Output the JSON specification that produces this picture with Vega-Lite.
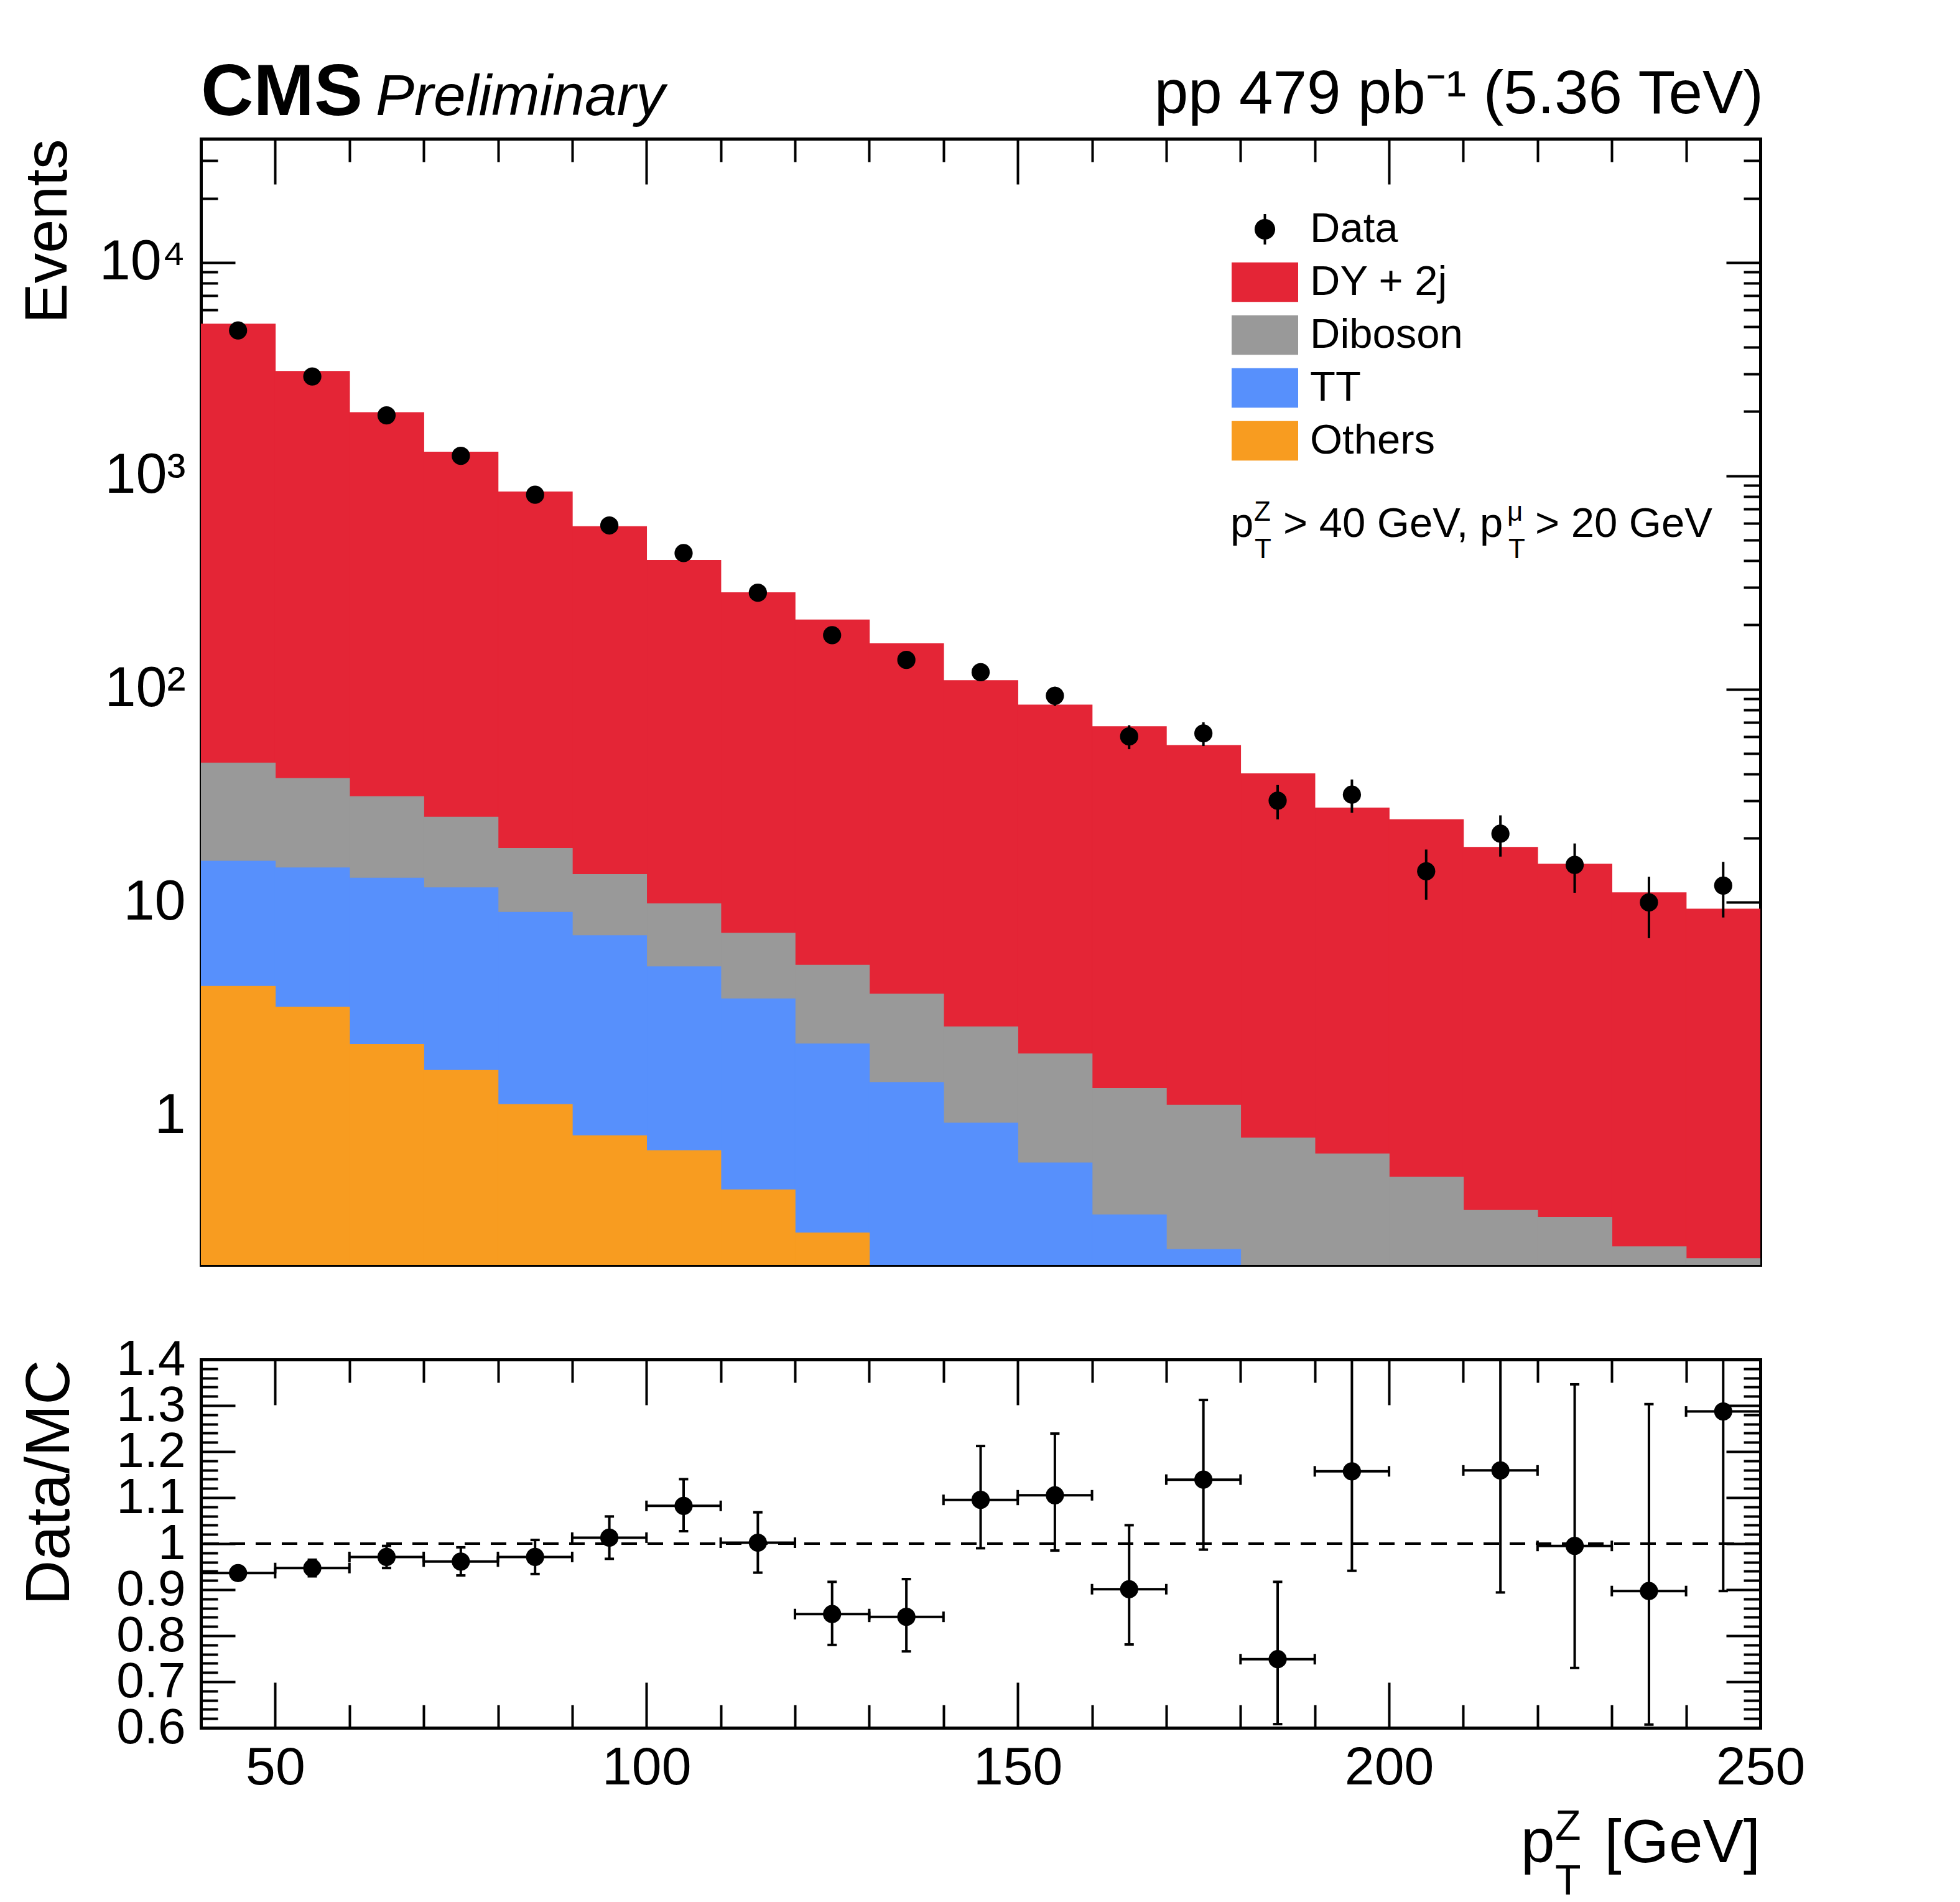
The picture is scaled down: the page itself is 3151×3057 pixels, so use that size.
{
  "$schema": "https://vega.github.io/schema/vega-lite/v6.json",
  "background": "white",
  "autosize": {"type": "pad"},
  "padding": {"left": 28, "top": 90, "right": 0, "bottom": 0},
  "bounds": "flush",
  "spacing": 152,
  "config": {
    "view": {"stroke": null},
    "font": "Liberation Sans",
    "axis": {
      "grid": false, "domain": true, "domainColor": "black", "domainWidth": 5, "domainCap": "square",
      "tickColor": "black", "tickWidth": 4, "labelColor": "black", "labelFont": "Liberation Sans",
      "titleFont": "Liberation Sans", "titleFontWeight": "normal", "titleColor": "black",
      "zindex": 1, "labelFlush": false, "labelOverlap": false, "labelBound": false, "labelLimit": 1000
    }
  },
  "datasets": {
    "stack": [
      {"lo": 40, "hi": 50, "process": "DY + 2j", "cumulative": 5140},
      {"lo": 50, "hi": 60, "process": "DY + 2j", "cumulative": 3085},
      {"lo": 60, "hi": 70, "process": "DY + 2j", "cumulative": 1975},
      {"lo": 70, "hi": 80, "process": "DY + 2j", "cumulative": 1290},
      {"lo": 80, "hi": 90, "process": "DY + 2j", "cumulative": 840},
      {"lo": 90, "hi": 100, "process": "DY + 2j", "cumulative": 577},
      {"lo": 100, "hi": 110, "process": "DY + 2j", "cumulative": 401},
      {"lo": 110, "hi": 120, "process": "DY + 2j", "cumulative": 283},
      {"lo": 120, "hi": 130, "process": "DY + 2j", "cumulative": 211},
      {"lo": 130, "hi": 140, "process": "DY + 2j", "cumulative": 163},
      {"lo": 140, "hi": 150, "process": "DY + 2j", "cumulative": 109.5},
      {"lo": 150, "hi": 160, "process": "DY + 2j", "cumulative": 84.2},
      {"lo": 160, "hi": 170, "process": "DY + 2j", "cumulative": 66.6},
      {"lo": 170, "hi": 180, "process": "DY + 2j", "cumulative": 54.4},
      {"lo": 180, "hi": 190, "process": "DY + 2j", "cumulative": 40.1},
      {"lo": 190, "hi": 200, "process": "DY + 2j", "cumulative": 27.7},
      {"lo": 200, "hi": 210, "process": "DY + 2j", "cumulative": 24.4},
      {"lo": 210, "hi": 220, "process": "DY + 2j", "cumulative": 18.1},
      {"lo": 220, "hi": 230, "process": "DY + 2j", "cumulative": 15.1},
      {"lo": 230, "hi": 240, "process": "DY + 2j", "cumulative": 11.1},
      {"lo": 240, "hi": 250, "process": "DY + 2j", "cumulative": 9.3},
      {"lo": 40, "hi": 50, "process": "Diboson", "cumulative": 45.0},
      {"lo": 50, "hi": 60, "process": "Diboson", "cumulative": 38.1},
      {"lo": 60, "hi": 70, "process": "Diboson", "cumulative": 31.3},
      {"lo": 70, "hi": 80, "process": "Diboson", "cumulative": 25.1},
      {"lo": 80, "hi": 90, "process": "Diboson", "cumulative": 17.9},
      {"lo": 90, "hi": 100, "process": "Diboson", "cumulative": 13.5},
      {"lo": 100, "hi": 110, "process": "Diboson", "cumulative": 9.85},
      {"lo": 110, "hi": 120, "process": "Diboson", "cumulative": 7.17},
      {"lo": 120, "hi": 130, "process": "Diboson", "cumulative": 5.07},
      {"lo": 130, "hi": 140, "process": "Diboson", "cumulative": 3.72},
      {"lo": 140, "hi": 150, "process": "Diboson", "cumulative": 2.61},
      {"lo": 150, "hi": 160, "process": "Diboson", "cumulative": 1.95},
      {"lo": 160, "hi": 170, "process": "Diboson", "cumulative": 1.34},
      {"lo": 170, "hi": 180, "process": "Diboson", "cumulative": 1.12},
      {"lo": 180, "hi": 190, "process": "Diboson", "cumulative": 0.786},
      {"lo": 190, "hi": 200, "process": "Diboson", "cumulative": 0.662},
      {"lo": 200, "hi": 210, "process": "Diboson", "cumulative": 0.515},
      {"lo": 210, "hi": 220, "process": "Diboson", "cumulative": 0.36},
      {"lo": 220, "hi": 230, "process": "Diboson", "cumulative": 0.334},
      {"lo": 230, "hi": 240, "process": "Diboson", "cumulative": 0.243},
      {"lo": 240, "hi": 250, "process": "Diboson", "cumulative": 0.214},
      {"lo": 40, "hi": 50, "process": "TT", "cumulative": 15.6},
      {"lo": 50, "hi": 60, "process": "TT", "cumulative": 14.5},
      {"lo": 60, "hi": 70, "process": "TT", "cumulative": 13.0},
      {"lo": 70, "hi": 80, "process": "TT", "cumulative": 11.7},
      {"lo": 80, "hi": 90, "process": "TT", "cumulative": 8.98},
      {"lo": 90, "hi": 100, "process": "TT", "cumulative": 6.98},
      {"lo": 100, "hi": 110, "process": "TT", "cumulative": 4.99},
      {"lo": 110, "hi": 120, "process": "TT", "cumulative": 3.53},
      {"lo": 120, "hi": 130, "process": "TT", "cumulative": 2.17},
      {"lo": 130, "hi": 140, "process": "TT", "cumulative": 1.43},
      {"lo": 140, "hi": 150, "process": "TT", "cumulative": 0.923},
      {"lo": 150, "hi": 160, "process": "TT", "cumulative": 0.601},
      {"lo": 160, "hi": 170, "process": "TT", "cumulative": 0.343},
      {"lo": 170, "hi": 180, "process": "TT", "cumulative": 0.236},
      {"lo": 40, "hi": 50, "process": "Others", "cumulative": 4.04},
      {"lo": 50, "hi": 60, "process": "Others", "cumulative": 3.23},
      {"lo": 60, "hi": 70, "process": "Others", "cumulative": 2.16},
      {"lo": 70, "hi": 80, "process": "Others", "cumulative": 1.63},
      {"lo": 80, "hi": 90, "process": "Others", "cumulative": 1.13},
      {"lo": 90, "hi": 100, "process": "Others", "cumulative": 0.806},
      {"lo": 100, "hi": 110, "process": "Others", "cumulative": 0.686},
      {"lo": 110, "hi": 120, "process": "Others", "cumulative": 0.449},
      {"lo": 120, "hi": 130, "process": "Others", "cumulative": 0.282}
    ],
    "observed": [
      {"center": 45, "events": 4800, "low": 4731, "high": 4869},
      {"center": 55, "events": 2920, "low": 2866, "high": 2974},
      {"center": 65, "events": 1920, "low": 1876, "high": 1964},
      {"center": 75, "events": 1240, "low": 1205, "high": 1275},
      {"center": 85, "events": 815, "low": 786.5, "high": 843.5},
      {"center": 95, "events": 585, "low": 561, "high": 609},
      {"center": 105, "events": 434, "low": 413, "high": 455},
      {"center": 115, "events": 283, "low": 266, "high": 300},
      {"center": 125, "events": 179, "low": 165.6, "high": 192.4},
      {"center": 135, "events": 137, "low": 125.3, "high": 148.7},
      {"center": 145, "events": 120, "low": 109, "high": 131},
      {"center": 155, "events": 93, "low": 83.4, "high": 102.6},
      {"center": 165, "events": 60, "low": 52.3, "high": 67.7},
      {"center": 175, "events": 62, "low": 54.1, "high": 69.9},
      {"center": 185, "events": 30, "low": 24.5, "high": 35.5},
      {"center": 195, "events": 32, "low": 26.3, "high": 37.7},
      {"center": 205, "events": 14, "low": 10.3, "high": 17.7},
      {"center": 215, "events": 21, "low": 16.4, "high": 25.6},
      {"center": 225, "events": 15, "low": 11.1, "high": 18.9},
      {"center": 235, "events": 10, "low": 6.8, "high": 13.2},
      {"center": 245, "events": 12, "low": 8.5, "high": 15.5}
    ],
    "ratio": [
      {"center": 45, "lo": 40, "hi": 50, "ratio": 0.936, "low": 0.922, "high": 0.950},
      {"center": 55, "lo": 50, "hi": 60, "ratio": 0.947, "low": 0.929, "high": 0.965},
      {"center": 65, "lo": 60, "hi": 70, "ratio": 0.971, "low": 0.947, "high": 0.995},
      {"center": 75, "lo": 70, "hi": 80, "ratio": 0.961, "low": 0.931, "high": 0.992},
      {"center": 85, "lo": 80, "hi": 90, "ratio": 0.971, "low": 0.934, "high": 1.008},
      {"center": 95, "lo": 90, "hi": 100, "ratio": 1.013, "low": 0.967, "high": 1.059},
      {"center": 105, "lo": 100, "hi": 110, "ratio": 1.082, "low": 1.027, "high": 1.140},
      {"center": 115, "lo": 110, "hi": 120, "ratio": 1.002, "low": 0.937, "high": 1.068},
      {"center": 125, "lo": 120, "hi": 130, "ratio": 0.847, "low": 0.780, "high": 0.917},
      {"center": 135, "lo": 130, "hi": 140, "ratio": 0.841, "low": 0.766, "high": 0.923},
      {"center": 145, "lo": 140, "hi": 150, "ratio": 1.095, "low": 0.990, "high": 1.212},
      {"center": 155, "lo": 150, "hi": 160, "ratio": 1.105, "low": 0.985, "high": 1.239},
      {"center": 165, "lo": 160, "hi": 170, "ratio": 0.901, "low": 0.781, "high": 1.040},
      {"center": 175, "lo": 170, "hi": 180, "ratio": 1.139, "low": 0.987, "high": 1.312},
      {"center": 185, "lo": 180, "hi": 190, "ratio": 0.749, "low": 0.608, "high": 0.917},
      {"center": 195, "lo": 190, "hi": 200, "ratio": 1.157, "low": 0.941, "high": 1.42},
      {"center": 215, "lo": 210, "hi": 220, "ratio": 1.159, "low": 0.894, "high": 1.49},
      {"center": 225, "lo": 220, "hi": 230, "ratio": 0.995, "low": 0.730, "high": 1.346},
      {"center": 235, "lo": 230, "hi": 240, "ratio": 0.897, "low": 0.607, "high": 1.303},
      {"center": 245, "lo": 240, "hi": 250, "ratio": 1.287, "low": 0.897, "high": 1.79}
    ]
  },
  "vconcat": [
    {
      "width": 2507,
      "height": 1810,
      "resolve": {"axis": {"x": "independent", "y": "independent"}},
      "layer": [
        {
          "data": {"name": "stack"},
          "mark": {"type": "bar", "clip": true, "strokeWidth": 1.5},
          "encoding": {
            "x": {"field": "lo", "type": "quantitative", "stack": null,
                  "scale": {"domain": [40, 250], "nice": false, "zero": false},
                  "axis": {"orient": "bottom", "values": [50, 100, 150, 200, 250], "tickSize": -73, "labels": false, "title": null}},
            "x2": {"field": "hi"},
            "y": {"field": "cumulative", "type": "quantitative", "stack": null,
                  "scale": {"type": "log", "domain": [0.2, 38000], "nice": false},
                  "axis": {"orient": "left", "values": [1, 10, 100, 1000, 10000], "tickSize": -55,
                           "labelFontSize": 90, "labelPadding": 80,
                           "labelExpr": "datum.value >= 10000 ? '10⁴' : datum.value >= 1000 ? '10³' : datum.value >= 100 ? '10²' : datum.value >= 10 ? '10' : '1'",
                           "title": "Events", "titleFontSize": 97, "titleX": -217, "titleY": 0, "titleAngle": 270,
                           "titleAlign": "right", "titleBaseline": "alphabetic", "titleAnchor": "end"}},
            "y2": {"datum": 0.2},
            "stroke": {"field": "process", "type": "nominal", "legend": null,
                       "scale": {"domain": ["Data", "DY + 2j", "Diboson", "TT", "Others"],
                                 "range": ["#000000", "#e42536", "#999999", "#5790fc", "#f89c20"]}},
            "color": {"field": "process", "type": "nominal",
                      "scale": {"domain": ["Data", "DY + 2j", "Diboson", "TT", "Others"],
                                "range": ["#000000", "#e42536", "#999999", "#5790fc", "#f89c20"]},
                      "legend": {"title": null, "orient": "none", "legendX": 1657, "legendY": 103, "direction": "vertical",
                                 "labelFontSize": 67, "labelFont": "Liberation Sans", "labelColor": "black", "labelOffset": 19,
                                 "labelLimit": 1000, "symbolType": "M-1,-0.594H1V0.594H-1Z", "symbolSize": 11449,
                                 "symbolStrokeWidth": 0, "symbolOpacity": 1, "clipHeight": 85, "rowPadding": 0, "padding": 0,
                                 "encode": {"symbols": {"update": {"shape": {"signal": "datum.value === 'Data' ? 'M-0.037,-0.46H0.037V0.46H-0.037Z M0.31,0A0.31,0.31 0 1,1 -0.31,0A0.31,0.31 0 1,1 0.31,0Z' : 'M-1,-0.594H1V0.594H-1Z'"}}}}}}
          }
        },
        {
          "data": {"name": "observed"},
          "mark": {"type": "rule", "color": "black", "strokeWidth": 4, "clip": true},
          "encoding": {
            "x": {"field": "center", "type": "quantitative",
                  "axis": {"orient": "bottom", "values": [60, 70, 80, 90, 110, 120, 130, 140, 160, 170, 180, 190, 210, 220, 230, 240], "tickSize": -37, "labels": false, "title": null}},
            "y": {"field": "low", "type": "quantitative",
                  "axis": {"orient": "left", "values": [0.3, 0.4, 0.5, 0.6, 0.7, 0.8, 0.9, 2, 3, 4, 5, 6, 7, 8, 9, 20, 30, 40, 50, 60, 70, 80, 90, 200, 300, 400, 500, 600, 700, 800, 900, 2000, 3000, 4000, 5000, 6000, 7000, 8000, 9000, 20000, 30000], "tickSize": -27, "labels": false, "title": null}},
            "y2": {"field": "high"}
          }
        },
        {
          "data": {"name": "observed"},
          "mark": {"type": "point", "filled": true, "size": 855, "opacity": 1, "strokeWidth": 0, "clip": true},
          "encoding": {
            "x": {"field": "center", "type": "quantitative",
                  "axis": {"orient": "top", "values": [50, 100, 150, 200, 250], "tickSize": -73, "labels": false, "title": null}},
            "y": {"field": "events", "type": "quantitative",
                  "axis": {"orient": "right", "values": [1, 10, 100, 1000, 10000], "tickSize": -55, "labels": false, "title": null}},
            "color": {"datum": "Data", "type": "nominal"}
          }
        },
        {
          "data": {"values": [{"label": "CMS"}]},
          "mark": {"type": "text", "font": "Liberation Sans", "fontSize": 117, "fontWeight": "bold", "align": "left", "baseline": "alphabetic", "dy": -38.5, "color": "black"},
          "encoding": {
            "x": {"datum": 40, "type": "quantitative",
                  "axis": {"orient": "top", "values": [60, 70, 80, 90, 110, 120, 130, 140, 160, 170, 180, 190, 210, 220, 230, 240], "tickSize": -37, "labels": false, "title": null}},
            "y": {"datum": 38000, "type": "quantitative",
                  "axis": {"orient": "right", "values": [0.3, 0.4, 0.5, 0.6, 0.7, 0.8, 0.9, 2, 3, 4, 5, 6, 7, 8, 9, 20, 30, 40, 50, 60, 70, 80, 90, 200, 300, 400, 500, 600, 700, 800, 900, 2000, 3000, 4000, 5000, 6000, 7000, 8000, 9000, 20000, 30000], "tickSize": -27, "labels": false, "title": null}},
            "text": {"field": "label"}
          }
        },
        {
          "data": {"values": [{"label": "Preliminary"}]},
          "mark": {"type": "text", "font": "Liberation Sans", "fontSize": 93, "fontStyle": "italic", "align": "left", "baseline": "alphabetic", "dx": 281, "dy": -38.5, "color": "black"},
          "encoding": {
            "x": {"datum": 40, "type": "quantitative", "axis": null},
            "y": {"datum": 38000, "type": "quantitative", "axis": null},
            "text": {"field": "label"}
          }
        },
        {
          "data": {"values": [{"label": "pp 479 pb⁻¹ (5.36 TeV)"}]},
          "mark": {"type": "text", "font": "Liberation Sans", "fontSize": 98, "align": "right", "baseline": "alphabetic", "dx": 5, "dy": -41, "color": "black"},
          "encoding": {
            "x": {"datum": 250, "type": "quantitative", "axis": null},
            "y": {"datum": 38000, "type": "quantitative", "axis": null},
            "text": {"field": "label"}
          }
        },
        {
          "data": {"values": [{"label": "p"}]},
          "mark": {"type": "text", "font": "Liberation Sans", "fontSize": 67, "align": "left", "baseline": "alphabetic", "color": "black"},
          "encoding": {
            "x": {"datum": 178.63, "type": "quantitative", "axis": null},
            "y": {"datum": 516.9, "type": "quantitative", "axis": null},
            "text": {"field": "label"}
          }
        },
        {
          "data": {"values": [{"label": "Z"}]},
          "mark": {"type": "text", "font": "Liberation Sans", "fontSize": 44, "align": "left", "baseline": "alphabetic", "dx": 38, "dy": -26, "color": "black"},
          "encoding": {
            "x": {"datum": 178.63, "type": "quantitative", "axis": null},
            "y": {"datum": 516.9, "type": "quantitative", "axis": null},
            "text": {"field": "label"}
          }
        },
        {
          "data": {"values": [{"label": "T"}]},
          "mark": {"type": "text", "font": "Liberation Sans", "fontSize": 44, "align": "left", "baseline": "alphabetic", "dx": 39, "dy": 34, "color": "black"},
          "encoding": {
            "x": {"datum": 178.63, "type": "quantitative", "axis": null},
            "y": {"datum": 516.9, "type": "quantitative", "axis": null},
            "text": {"field": "label"}
          }
        },
        {
          "data": {"values": [{"label": "> 40 GeV, p"}]},
          "mark": {"type": "text", "font": "Liberation Sans", "fontSize": 67, "align": "left", "baseline": "alphabetic", "dx": 85, "color": "black"},
          "encoding": {
            "x": {"datum": 178.63, "type": "quantitative", "axis": null},
            "y": {"datum": 516.9, "type": "quantitative", "axis": null},
            "text": {"field": "label"}
          }
        },
        {
          "data": {"values": [{"label": "μ"}]},
          "mark": {"type": "text", "font": "Liberation Sans", "fontSize": 44, "align": "left", "baseline": "alphabetic", "dx": 445, "dy": -26, "color": "black"},
          "encoding": {
            "x": {"datum": 178.63, "type": "quantitative", "axis": null},
            "y": {"datum": 516.9, "type": "quantitative", "axis": null},
            "text": {"field": "label"}
          }
        },
        {
          "data": {"values": [{"label": "T"}]},
          "mark": {"type": "text", "font": "Liberation Sans", "fontSize": 44, "align": "left", "baseline": "alphabetic", "dx": 447, "dy": 34, "color": "black"},
          "encoding": {
            "x": {"datum": 178.63, "type": "quantitative", "axis": null},
            "y": {"datum": 516.9, "type": "quantitative", "axis": null},
            "text": {"field": "label"}
          }
        },
        {
          "data": {"values": [{"label": "> 20 GeV"}]},
          "mark": {"type": "text", "font": "Liberation Sans", "fontSize": 67, "align": "left", "baseline": "alphabetic", "dx": 490, "color": "black"},
          "encoding": {
            "x": {"datum": 178.63, "type": "quantitative", "axis": null},
            "y": {"datum": 516.9, "type": "quantitative", "axis": null},
            "text": {"field": "label"}
          }
        }
      ]
    },
    {
      "width": 2507,
      "height": 592,
      "resolve": {"axis": {"x": "independent", "y": "independent"}},
      "layer": [
        {
          "data": {"values": [{"reference": 1}]},
          "mark": {"type": "rule", "color": "black", "strokeWidth": 4, "strokeDash": [25, 17]},
          "encoding": {
            "y": {"field": "reference", "type": "quantitative",
                  "scale": {"domain": [0.6, 1.4], "nice": false, "zero": false},
                  "axis": {"orient": "left", "values": [0.6, 0.7, 0.8, 0.9, 1, 1.1, 1.2, 1.3, 1.4], "tickSize": -55,
                           "labelFontSize": 80, "labelPadding": 80,
                           "labelExpr": "datum.value == 1 ? '1' : format(datum.value, '.1f')",
                           "title": "Data/MC", "titleFontSize": 100, "titleX": -213, "titleY": 0, "titleAngle": 270,
                           "titleAlign": "right", "titleBaseline": "alphabetic", "titleAnchor": "end"}}
          }
        },
        {
          "data": {"name": "ratio"},
          "mark": {"type": "rule", "color": "black", "strokeWidth": 4, "clip": true},
          "encoding": {
            "x": {"field": "center", "type": "quantitative",
                  "scale": {"domain": [40, 250], "nice": false, "zero": false},
                  "axis": {"orient": "bottom", "values": [50, 100, 150, 200, 250], "tickSize": -73, "labelFontSize": 86, "labelPadding": 95, "title": null}},
            "y": {"field": "low", "type": "quantitative",
                  "axis": {"orient": "left", "values": [0.62, 0.64, 0.66, 0.68, 0.72, 0.74, 0.76, 0.78, 0.82, 0.84, 0.86, 0.88, 0.92, 0.94, 0.96, 0.98, 1.02, 1.04, 1.06, 1.08, 1.12, 1.14, 1.16, 1.18, 1.22, 1.24, 1.26, 1.28, 1.32, 1.34, 1.36, 1.38], "tickSize": -27, "labels": false, "title": null}},
            "y2": {"field": "high"}
          }
        },
        {
          "data": {"name": "ratio"},
          "mark": {"type": "rule", "color": "black", "strokeWidth": 4, "clip": true},
          "encoding": {
            "x": {"field": "lo", "type": "quantitative",
                  "axis": {"orient": "bottom", "values": [60, 70, 80, 90, 110, 120, 130, 140, 160, 170, 180, 190, 210, 220, 230, 240], "tickSize": -37, "labels": false, "title": null}},
            "x2": {"field": "hi"},
            "y": {"field": "ratio", "type": "quantitative",
                  "axis": {"orient": "right", "values": [0.6, 0.7, 0.8, 0.9, 1, 1.1, 1.2, 1.3, 1.4], "tickSize": -55, "labels": false, "title": null}}
          }
        },
        {
          "data": {"name": "ratio"},
          "mark": {"type": "tick", "orient": "horizontal", "color": "black", "size": 15, "thickness": 4, "opacity": 1, "clip": true},
          "encoding": {
            "x": {"field": "center", "type": "quantitative",
                  "axis": {"orient": "top", "values": [50, 100, 150, 200, 250], "tickSize": -73, "labels": false, "title": null}},
            "y": {"field": "low", "type": "quantitative",
                  "axis": {"orient": "right", "values": [0.62, 0.64, 0.66, 0.68, 0.72, 0.74, 0.76, 0.78, 0.82, 0.84, 0.86, 0.88, 0.92, 0.94, 0.96, 0.98, 1.02, 1.04, 1.06, 1.08, 1.12, 1.14, 1.16, 1.18, 1.22, 1.24, 1.26, 1.28, 1.32, 1.34, 1.36, 1.38], "tickSize": -27, "labels": false, "title": null}}
          }
        },
        {
          "data": {"name": "ratio"},
          "mark": {"type": "tick", "orient": "horizontal", "color": "black", "size": 15, "thickness": 4, "opacity": 1, "clip": true},
          "encoding": {
            "x": {"field": "center", "type": "quantitative",
                  "axis": {"orient": "top", "values": [60, 70, 80, 90, 110, 120, 130, 140, 160, 170, 180, 190, 210, 220, 230, 240], "tickSize": -37, "labels": false, "title": null}},
            "y": {"field": "high", "type": "quantitative", "axis": null}
          }
        },
        {
          "data": {"name": "ratio"},
          "mark": {"type": "tick", "orient": "vertical", "color": "black", "size": 17, "thickness": 4, "opacity": 1, "clip": true},
          "encoding": {
            "x": {"field": "lo", "type": "quantitative", "axis": null},
            "y": {"field": "ratio", "type": "quantitative", "axis": null}
          }
        },
        {
          "data": {"name": "ratio"},
          "mark": {"type": "tick", "orient": "vertical", "color": "black", "size": 17, "thickness": 4, "opacity": 1, "clip": true},
          "encoding": {
            "x": {"field": "hi", "type": "quantitative", "axis": null},
            "y": {"field": "ratio", "type": "quantitative", "axis": null}
          }
        },
        {
          "data": {"name": "ratio"},
          "mark": {"type": "point", "filled": true, "size": 855, "opacity": 1, "strokeWidth": 0, "color": "black", "clip": true},
          "encoding": {
            "x": {"field": "center", "type": "quantitative", "axis": null},
            "y": {"field": "ratio", "type": "quantitative", "axis": null}
          }
        },
        {
          "data": {"values": [{"label": "p"}]},
          "mark": {"type": "text", "font": "Liberation Sans", "fontSize": 98, "align": "left", "baseline": "alphabetic", "dx": -385, "dy": 216, "color": "black"},
          "encoding": {
            "x": {"datum": 250, "type": "quantitative", "axis": null},
            "y": {"datum": 0.6, "type": "quantitative", "axis": null},
            "text": {"field": "label"}
          }
        },
        {
          "data": {"values": [{"label": "Z"}]},
          "mark": {"type": "text", "font": "Liberation Sans", "fontSize": 68, "align": "left", "baseline": "alphabetic", "dx": -330, "dy": 179.5, "color": "black"},
          "encoding": {
            "x": {"datum": 250, "type": "quantitative", "axis": null},
            "y": {"datum": 0.6, "type": "quantitative", "axis": null},
            "text": {"field": "label"}
          }
        },
        {
          "data": {"values": [{"label": "T"}]},
          "mark": {"type": "text", "font": "Liberation Sans", "fontSize": 68, "align": "left", "baseline": "alphabetic", "dx": -330, "dy": 267.5, "color": "black"},
          "encoding": {
            "x": {"datum": 250, "type": "quantitative", "axis": null},
            "y": {"datum": 0.6, "type": "quantitative", "axis": null},
            "text": {"field": "label"}
          }
        },
        {
          "data": {"values": [{"label": "[GeV]"}]},
          "mark": {"type": "text", "font": "Liberation Sans", "fontSize": 98, "align": "right", "baseline": "alphabetic", "dx": 0, "dy": 216, "color": "black"},
          "encoding": {
            "x": {"datum": 250, "type": "quantitative", "axis": null},
            "y": {"datum": 0.6, "type": "quantitative", "axis": null},
            "text": {"field": "label"}
          }
        }
      ]
    }
  ]
}
